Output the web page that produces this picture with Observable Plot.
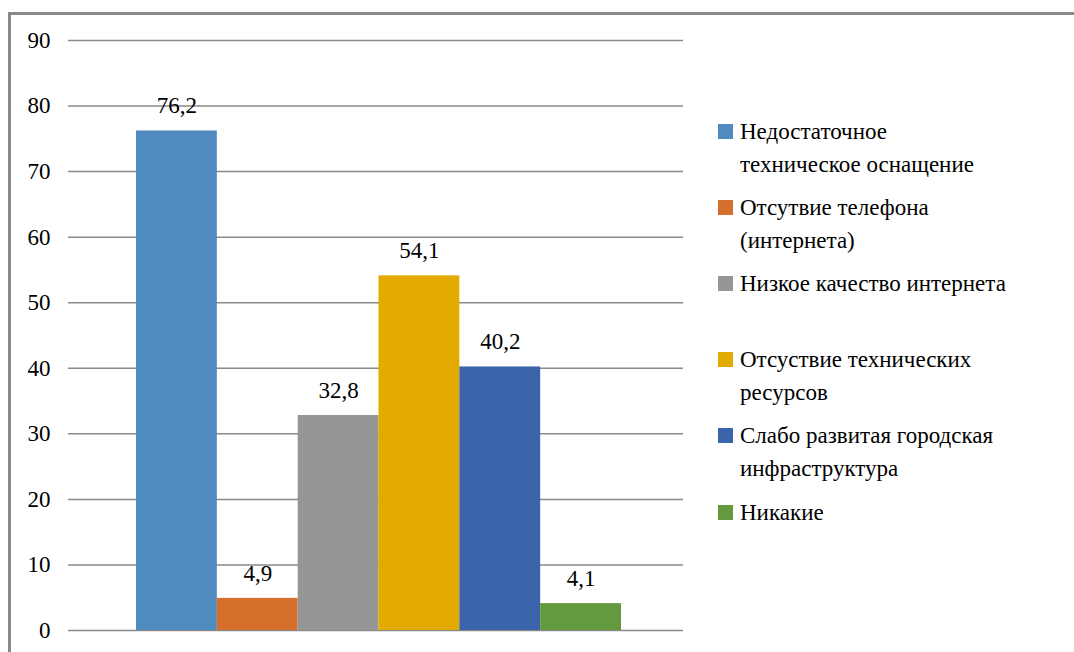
<!DOCTYPE html>
<html><head><meta charset="utf-8">
<script src="https://cdn.jsdelivr.net/npm/d3@7"></script>
<script src="https://cdn.jsdelivr.net/npm/@observablehq/plot@0.6"></script>
<style>
body{margin:0;background:#fff;}
#wrap{position:relative;width:1074px;height:652px;overflow:hidden;}
#frame{position:absolute;left:8px;top:12px;width:1090px;height:700px;border:3px solid #898989;box-sizing:border-box;}
#chart{position:absolute;left:0;top:0;}
.item{position:absolute;left:718px;font-size:23px;line-height:33px;color:#000;}
.sw{position:absolute;left:0;top:9px;width:15px;height:15px;}
.lbl{position:absolute;left:22px;top:0;white-space:nowrap;}
</style></head>
<body><div id="wrap"><div id="frame"></div><div id="chart"></div></div>
<script>
const series = ["Недостаточное техническое оснащение","Отсутвие телефона (интернета)","Низкое качество интернета","Отсуствие технических ресурсов","Слабо развитая городская инфраструктура","Никакие"];
const values = [76.2, 4.9, 32.8, 54.1, 40.2, 4.1];
const colors = ["#4f8bbf","#d4702b","#969696","#e3aa00","#3b64ab","#629a3d"];
const legendLines = [["Недостаточное","техническое оснащение"],["Отсутвие телефона","(интернета)"],["Низкое качество интернета"],["Отсуствие технических","ресурсов"],["Слабо развитая городская","инфраструктура"],["Никакие"]];
const yTicks = [0,10,20,30,40,50,60,70,80,90];

const data = series.map((name,i)=>({name, value: values[i]}));
const fmt = v => String(v).replace(".", ",");
const FONT = "Liberation Serif";

const chart = Plot.plot({
  width: 1074, height: 652,
  marginLeft: 68, marginRight: 1074-683, marginTop: 40, marginBottom: 22,
  style: {fontFamily: FONT, fontSize: "23px", background: "transparent", color: "#000"},
  x: {domain: series, range: [136, 621], padding: 0, round: false, axis: null},
  y: {domain: [0, 90]},
  color: {domain: series, range: colors},
  marks: [
    Plot.ruleY(yTicks, {stroke: "#8a8a8a", strokeWidth: 1.5}),
    Plot.axisY({ticks: yTicks, tickSize: 0, tickPadding: 18, fontSize: 23, label: null, tickFormat: d => String(d)}),
    Plot.barY(data, {x: "name", y: "value", fill: "name", inset: 0}),
    Plot.text(data, {x: "name", y: "value", text: d => fmt(d.value), dy: -25, fontSize: 23, fill: "#000"})
  ]
});
document.getElementById("chart").append(chart);

const wrap = document.getElementById("wrap");
legendLines.forEach((lines, i) => {
  const it = document.createElement("div");
  it.className = "item";
  it.style.fontFamily = FONT;
  it.style.top = (131 - 16.5 + i * 76.2) + "px";
  const sw = document.createElement("div");
  sw.className = "sw";
  sw.style.background = colors[i];
  const lb = document.createElement("div");
  lb.className = "lbl";
  lb.innerHTML = lines.join("<br>");
  it.append(sw, lb);
  wrap.append(it);
});
</script></body></html>
